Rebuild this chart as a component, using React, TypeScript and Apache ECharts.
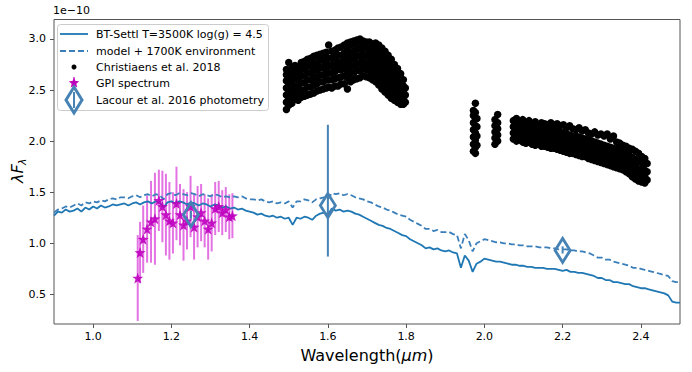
import React, { useEffect, useRef } from "react";
import * as echarts from "echarts";

// ---------- DATA ----------
// model spectrum wavelength grid (micron), 0.90 .. 2.50 step 0.01
const modelWl: number[] = Array.from({ length: 161 }, (_, i) => +(0.9 + i * 0.01).toFixed(2));
// BT-Settl T=3500K log(g)=4.5  (units of 1e-10)
const settlFlux = [
  1.27, 1.31, 1.30, 1.33, 1.31, 1.32, 1.34, 1.31, 1.35, 1.33,
  1.36, 1.34, 1.37, 1.35, 1.36, 1.38, 1.37, 1.38, 1.39, 1.37,
  1.39, 1.40, 1.38, 1.40, 1.41, 1.39, 1.41, 1.40, 1.35, 1.40,
  1.41, 1.39, 1.41, 1.40, 1.38, 1.40, 1.39, 1.37, 1.39, 1.38,
  1.36, 1.38, 1.37, 1.35, 1.36, 1.34, 1.35, 1.33, 1.34, 1.32,
  1.31, 1.30, 1.28, 1.29, 1.27, 1.26, 1.27, 1.25, 1.26, 1.24,
  1.25, 1.18, 1.25, 1.24, 1.26, 1.25, 1.23, 1.27, 1.29, 1.30,
  1.28, 1.34, 1.32, 1.33, 1.31, 1.32, 1.31, 1.29, 1.28, 1.26,
  1.24, 1.22, 1.20, 1.18, 1.17, 1.15, 1.14, 1.12, 1.10, 1.08,
  1.07, 1.04, 1.02, 1.00, 0.98, 0.95, 0.96, 0.94, 0.95, 0.93,
  0.92, 0.93, 0.91, 0.90, 0.76, 0.88, 0.83, 0.72, 0.80, 0.82,
  0.85, 0.84, 0.83, 0.82, 0.82, 0.81, 0.80, 0.79, 0.79, 0.78,
  0.78, 0.77, 0.77, 0.76, 0.76, 0.76, 0.75, 0.75, 0.75, 0.74,
  0.73, 0.74, 0.72, 0.72, 0.71, 0.71, 0.70, 0.69, 0.68, 0.66,
  0.66, 0.64, 0.64, 0.62, 0.62, 0.61, 0.60, 0.60, 0.58, 0.57,
  0.56, 0.56, 0.55, 0.54, 0.53, 0.52, 0.51, 0.49, 0.43, 0.42,
  0.42,
];
// model + 1700K environment
const envFlux = [
  1.30, 1.33, 1.34, 1.36, 1.35, 1.37, 1.39, 1.37, 1.40, 1.39,
  1.41, 1.40, 1.42, 1.41, 1.43, 1.44, 1.43, 1.45, 1.45, 1.44,
  1.46, 1.47, 1.45, 1.47, 1.48, 1.46, 1.48, 1.47, 1.43, 1.48,
  1.49, 1.47, 1.49, 1.48, 1.47, 1.49, 1.48, 1.46, 1.48, 1.47,
  1.46, 1.48, 1.47, 1.45, 1.46, 1.45, 1.46, 1.45, 1.46, 1.44,
  1.43, 1.43, 1.42, 1.43, 1.41, 1.40, 1.41, 1.39, 1.40, 1.39,
  1.41, 1.35, 1.41, 1.41, 1.43, 1.42, 1.40, 1.43, 1.44, 1.45,
  1.43, 1.49, 1.48, 1.49, 1.47, 1.48, 1.47, 1.45, 1.44, 1.43,
  1.41, 1.40, 1.38, 1.36, 1.35, 1.33, 1.32, 1.30, 1.28, 1.27,
  1.26, 1.23, 1.21, 1.19, 1.17, 1.14, 1.14, 1.12, 1.13, 1.11,
  1.11, 1.11, 1.09, 1.08, 0.95, 1.09, 1.03, 0.92, 1.00, 1.02,
  1.04, 1.03, 1.02, 1.01, 1.01, 1.00, 1.00, 0.99, 0.99, 0.98,
  0.98, 0.97, 0.97, 0.97, 0.96, 0.96, 0.96, 0.95, 0.95, 0.94,
  0.94, 0.94, 0.93, 0.93, 0.92, 0.92, 0.91, 0.90, 0.88, 0.86,
  0.86, 0.84, 0.84, 0.82, 0.81, 0.80, 0.79, 0.78, 0.76, 0.76,
  0.75, 0.74, 0.73, 0.72, 0.71, 0.70, 0.69, 0.68, 0.63, 0.62,
  0.62,
];

// Christiaens et al. 2018: each row = [wavelength, flux, flux, ...]
const christiaensH: number[][] = [
  [1.494, 2.31, 2.38, 2.45, 2.52, 2.59, 2.65, 2.70],
  [1.500, 2.35, 2.42, 2.49, 2.56, 2.63, 2.69, 2.77],
  [1.508, 2.37, 2.44, 2.51, 2.58, 2.65, 2.72],
  [1.516, 2.41, 2.47, 2.54, 2.61, 2.68, 2.74],
  [1.524, 2.40, 2.46, 2.53, 2.60, 2.67, 2.73],
  [1.532, 2.43, 2.50, 2.57, 2.64, 2.70, 2.77],
  [1.540, 2.44, 2.50, 2.57, 2.64, 2.71, 2.78],
  [1.548, 2.45, 2.53, 2.60, 2.67, 2.74, 2.80],
  [1.556, 2.46, 2.53, 2.60, 2.67, 2.74, 2.81],
  [1.564, 2.47, 2.55, 2.62, 2.69, 2.76, 2.83],
  [1.572, 2.49, 2.56, 2.63, 2.70, 2.77, 2.84],
  [1.580, 2.50, 2.58, 2.65, 2.72, 2.79, 2.85],
  [1.588, 2.51, 2.58, 2.65, 2.72, 2.79, 2.86],
  [1.596, 2.52, 2.60, 2.67, 2.74, 2.81, 2.87],
  [1.602, 2.53, 2.60, 2.67, 2.74, 2.81, 2.94],
  [1.610, 2.52, 2.60, 2.67, 2.74, 2.81, 2.88],
  [1.618, 2.54, 2.61, 2.68, 2.75, 2.82, 2.89],
  [1.626, 2.54, 2.62, 2.70, 2.77, 2.84, 2.91],
  [1.634, 2.56, 2.63, 2.70, 2.77, 2.84, 2.92],
  [1.642, 2.56, 2.64, 2.72, 2.79, 2.86, 2.94],
  [1.650, 2.51, 2.62, 2.69, 2.76, 2.83, 2.90, 2.96],
  [1.658, 2.58, 2.66, 2.73, 2.80, 2.87, 2.94, 2.97],
  [1.666, 2.60, 2.67, 2.74, 2.81, 2.88, 2.95, 2.98],
  [1.674, 2.61, 2.69, 2.76, 2.83, 2.90, 2.97, 2.99],
  [1.682, 2.62, 2.69, 2.76, 2.83, 2.90, 2.96, 3.00],
  [1.690, 2.64, 2.71, 2.78, 2.85, 2.92, 2.98],
  [1.698, 2.63, 2.70, 2.77, 2.84, 2.91, 2.97],
  [1.706, 2.62, 2.69, 2.76, 2.83, 2.90, 2.97],
  [1.714, 2.60, 2.67, 2.74, 2.81, 2.88, 2.95],
  [1.722, 2.58, 2.65, 2.72, 2.79, 2.86, 2.93, 2.96],
  [1.730, 2.55, 2.62, 2.69, 2.76, 2.83, 2.90, 2.94],
  [1.738, 2.51, 2.58, 2.65, 2.72, 2.79, 2.86, 2.91],
  [1.746, 2.48, 2.55, 2.62, 2.69, 2.76, 2.83, 2.88],
  [1.754, 2.45, 2.52, 2.59, 2.66, 2.73, 2.80, 2.84],
  [1.762, 2.42, 2.49, 2.56, 2.63, 2.70, 2.77, 2.80],
  [1.770, 2.40, 2.47, 2.54, 2.61, 2.68, 2.75],
  [1.778, 2.38, 2.44, 2.51, 2.58, 2.65, 2.71],
  [1.786, 2.36, 2.43, 2.49, 2.56, 2.62, 2.66],
  [1.793, 2.36, 2.42, 2.48, 2.54, 2.60],
  [1.798, 2.38, 2.45, 2.52],
];
const christiaensK: number[][] = [
  [1.972, 1.90, 1.97, 2.04, 2.11, 2.18, 2.25, 2.30],
  [1.977, 1.88, 1.94, 2.01, 2.08, 2.15, 2.22, 2.28, 2.37],
  [1.981, 1.96, 2.05, 2.14, 2.22],
  [2.027, 1.97, 2.03, 2.09, 2.15, 2.21],
  [2.034, 2.00, 2.06, 2.12, 2.18, 2.26],
  [2.074, 2.02, 2.08, 2.14, 2.20],
  [2.082, 2.00, 2.06, 2.12, 2.18, 2.22],
  [2.090, 2.01, 2.07, 2.13, 2.19],
  [2.098, 1.99, 2.05, 2.11, 2.17, 2.21],
  [2.106, 1.98, 2.04, 2.10, 2.16],
  [2.114, 1.99, 2.05, 2.11, 2.17, 2.20],
  [2.122, 1.97, 2.03, 2.09, 2.15],
  [2.130, 1.96, 2.02, 2.08, 2.14, 2.19],
  [2.138, 1.97, 2.03, 2.09, 2.15],
  [2.146, 1.95, 2.01, 2.07, 2.13, 2.18],
  [2.154, 1.95, 2.00, 2.06, 2.12, 2.17],
  [2.162, 1.94, 2.00, 2.06, 2.12, 2.16],
  [2.170, 1.93, 1.99, 2.05, 2.11, 2.18],
  [2.178, 1.93, 1.98, 2.04, 2.10, 2.16],
  [2.186, 1.92, 1.98, 2.04, 2.10, 2.17],
  [2.194, 1.91, 1.97, 2.03, 2.09, 2.15],
  [2.202, 1.90, 1.96, 2.02, 2.08, 2.16],
  [2.210, 1.89, 1.95, 2.01, 2.07, 2.13],
  [2.218, 1.88, 1.94, 2.00, 2.06, 2.15],
  [2.226, 1.88, 1.93, 1.99, 2.05, 2.12],
  [2.234, 1.87, 1.93, 1.99, 2.05, 2.11],
  [2.242, 1.86, 1.92, 1.98, 2.04, 2.13],
  [2.250, 1.85, 1.91, 1.97, 2.03, 2.10],
  [2.258, 1.85, 1.90, 1.96, 2.02, 2.11],
  [2.266, 1.83, 1.89, 1.95, 2.01, 2.08],
  [2.274, 1.82, 1.88, 1.94, 2.00, 2.07],
  [2.282, 1.81, 1.87, 1.93, 1.99, 2.09],
  [2.290, 1.80, 1.86, 1.92, 1.98, 2.06],
  [2.298, 1.79, 1.85, 1.91, 1.97, 2.07],
  [2.306, 1.78, 1.84, 1.90, 1.96, 2.05],
  [2.314, 1.77, 1.83, 1.89, 1.95, 2.07],
  [2.322, 1.76, 1.82, 1.88, 1.94, 2.02],
  [2.330, 1.75, 1.81, 1.87, 1.93, 2.05],
  [2.338, 1.74, 1.80, 1.86, 1.92, 1.99],
  [2.346, 1.73, 1.79, 1.85, 1.91, 1.98],
  [2.354, 1.72, 1.78, 1.84, 1.90, 1.96],
  [2.362, 1.70, 1.76, 1.82, 1.88, 1.95],
  [2.370, 1.68, 1.74, 1.80, 1.86, 1.93],
  [2.378, 1.65, 1.71, 1.77, 1.84, 1.92],
  [2.386, 1.63, 1.69, 1.75, 1.82, 1.90],
  [2.394, 1.61, 1.67, 1.73, 1.80, 1.88],
  [2.402, 1.60, 1.66, 1.72, 1.79, 1.85],
  [2.410, 1.59, 1.65, 1.71, 1.77, 1.83],
  [2.416, 1.62, 1.70, 1.78],
];

// GPI spectrum
const gpiWl = [1.114, 1.120, 1.128, 1.138, 1.148, 1.158, 1.168, 1.177, 1.186, 1.195, 1.204, 1.213, 1.222, 1.231, 1.240, 1.249, 1.258, 1.267, 1.276, 1.285, 1.294, 1.303, 1.312, 1.321, 1.330, 1.339, 1.348, 1.356];
const gpiFlux = [0.66, 0.91, 1.04, 1.14, 1.21, 1.24, 1.42, 1.36, 1.28, 1.22, 1.20, 1.39, 1.28, 1.18, 1.22, 1.36, 1.16, 1.26, 1.30, 1.22, 1.14, 1.20, 1.34, 1.36, 1.30, 1.33, 1.26, 1.27];
const gpiErr = [0.42, 0.30, 0.33, 0.33, 0.40, 0.45, 0.30, 0.35, 0.40, 0.38, 0.30, 0.36, 0.30, 0.35, 0.28, 0.30, 0.32, 0.30, 0.28, 0.26, 0.30, 0.28, 0.26, 0.25, 0.22, 0.22, 0.22, 0.22];

// Lacour et al. 2016 photometry
const lacourWl = [1.25, 1.6, 2.2];
const lacourFlux = [1.28, 1.37, 0.93];
const lacourLo = [1.24, 0.87, 0.90];
const lacourHi = [1.32, 2.16, 0.97];

const xTicks = [1.0, 1.2, 1.4, 1.6, 1.8, 2.0, 2.2, 2.4];
const yTicks = [0.5, 1.0, 1.5, 2.0, 2.5, 3.0];

const legendNames = [
  "BT-Settl T=3500K log(g) = 4.5",
  "model + 1700K environment",
  "Christiaens et al. 2018",
  "GPI spectrum",
  "Lacour et al. 2016 photometry",
];

const FONT = "DejaVu Sans";
const C_MODEL = "#1f77b4";
const C_ENV = "#3a7fba";
const C_LAC = "#4682b4";
const C_GPI = "#bf00bf";
const C_GPI_BAR = "rgba(204,0,204,0.55)";

function starPoints(cx: number, cy: number, r: number): number[][] {
  const pts: number[][] = [];
  for (let k = 0; k < 10; k++) {
    const a = -Math.PI / 2 + (k * Math.PI) / 5;
    const rr = k % 2 === 0 ? r : r * 0.45;
    pts.push([cx + rr * Math.cos(a), cy + rr * Math.sin(a)]);
  }
  return pts;
}

const STAR_PATH =
  "path://M0,-10L2.35,-3.24L9.51,-3.09L3.8,1.24L5.88,8.09L0,4.5L-5.88,8.09L-3.8,1.24L-9.51,-3.09L-2.35,-3.24Z";

export default function App() {
  const ref = useRef<HTMLDivElement>(null);
  useEffect(() => {
    if (!ref.current) return;
    const chart = echarts.init(ref.current, null, { renderer: "svg" });

    const settlData = modelWl.map((w, i) => [w, settlFlux[i]]);
    const envData = modelWl.map((w, i) => [w, envFlux[i]]);
    const chrData: number[][] = [];
    [...christiaensH, ...christiaensK].forEach((row) => {
      for (let j = 1; j < row.length; j++) chrData.push([row[0], row[j]]);
    });
    const gpiData = gpiWl.map((w, i) => [w, gpiFlux[i]]);
    const gpiBars = gpiWl.map((w, i) => [w, gpiFlux[i] - gpiErr[i], gpiFlux[i] + gpiErr[i]]);
    const lacData = lacourWl.map((w, i) => [w, lacourFlux[i]]);
    const lacBars = lacourWl.map((w, i) => [w, lacourLo[i], lacourHi[i]]);

    const errRender = (color: string, width: number) => (params: any, api: any) => {
      const lo = api.coord([api.value(0), api.value(1)]);
      const hi = api.coord([api.value(0), api.value(2)]);
      return {
        type: "line",
        shape: { x1: lo[0], y1: lo[1], x2: hi[0], y2: hi[1] },
        style: { stroke: color, lineWidth: width },
      };
    };

    // legend graphics
    const lx = 60, tx = 96;
    const rows = [34, 51, 67, 83, 100];
    const legendGraphics: any[] = [
      {
        type: "rect",
        shape: { x: 57.5, y: 24.5, width: 211, height: 86, r: 3 },
        style: { fill: "rgba(255,255,255,0.8)", stroke: "#cccccc", lineWidth: 1 },
        z: 100,
      },
      { type: "line", shape: { x1: lx, y1: rows[0], x2: lx + 28, y2: rows[0] }, style: { stroke: C_MODEL, lineWidth: 1.8 }, z: 101 },
      { type: "line", shape: { x1: lx, y1: rows[1], x2: lx + 28, y2: rows[1] }, style: { stroke: C_ENV, lineWidth: 1.8, lineDash: [6, 3] }, z: 101 },
      { type: "circle", shape: { cx: lx + 14, cy: rows[2], r: 2.5 }, style: { fill: "#000" }, z: 101 },
      { type: "line", shape: { x1: lx + 14, y1: rows[3] - 6, x2: lx + 14, y2: rows[3] + 6 }, style: { stroke: C_GPI_BAR, lineWidth: 2 }, z: 101 },
      { type: "polygon", shape: { points: starPoints(lx + 14, rows[3], 5.5) }, style: { fill: C_GPI }, z: 102 },
      { type: "line", shape: { x1: lx + 14, y1: rows[4] - 8, x2: lx + 14, y2: rows[4] + 8 }, style: { stroke: C_LAC, lineWidth: 2 }, z: 101 },
      {
        type: "polygon",
        shape: { points: [[lx + 14, rows[4] - 13], [lx + 22, rows[4]], [lx + 14, rows[4] + 13], [lx + 6, rows[4]]] },
        style: { fill: "none", stroke: C_LAC, lineWidth: 3 },
        z: 102,
      },
      ...legendNames.map((n, i) => ({
        type: "text",
        x: tx,
        y: rows[i],
        style: { text: n, font: `11px '${FONT}'`, fill: "#000", textVerticalAlign: "middle" },
        z: 103,
      })),
    ];

    chart.setOption({
      animation: false,
      grid: {
        left: 54,
        right: 12,
        top: 19.5,
        bottom: 48,
        show: true,
        borderColor: "#555",
        borderWidth: 1,
        backgroundColor: "transparent",
      },
      xAxis: {
        type: "value",
        min: 0.9,
        max: 2.5,
        axisLine: { show: false },
        splitLine: { show: false },
        axisTick: { show: true, inside: false, length: 4, customValues: xTicks, lineStyle: { color: "#555" } },
        axisLabel: {
          customValues: xTicks,
          formatter: (v: number) => v.toFixed(1),
          fontFamily: FONT,
          fontSize: 11,
          color: "#000",
          margin: 7,
        },
      },
      yAxis: {
        type: "value",
        min: 0.21,
        max: 3.19,
        axisLine: { show: false },
        splitLine: { show: false },
        axisTick: { show: true, inside: false, length: 4, customValues: yTicks, lineStyle: { color: "#555" } },
        axisLabel: {
          customValues: yTicks,
          formatter: (v: number) => v.toFixed(1),
          fontFamily: FONT,
          fontSize: 11,
          color: "#000",
          margin: 8,
        },
      },
      graphic: [
        {
          type: "text",
          left: 53,
          top: 5,
          style: { text: "1e\u221210", font: `11px '${FONT}'`, fill: "#000" },
        },
        {
          type: "text",
          x: 367,
          y: 355,
          style: {
            text: "Wavelength({i|\u03bcm})",
            font: `16px '${FONT}'`,
            fill: "#000",
            align: "center",
            verticalAlign: "middle",
            rich: { i: { fontFamily: FONT, fontSize: 16, fontStyle: "italic" } },
          },
        },
        {
          type: "group",
          x: 17,
          y: 170,
          rotation: Math.PI / 2,
          children: [
            {
              type: "text",
              x: -13,
              y: 0,
              style: { text: "\u03bbF", font: `italic 16px '${FONT}'`, fill: "#000", align: "left", verticalAlign: "middle" },
            },
            {
              type: "text",
              x: 5,
              y: 5,
              style: { text: "\u03bb", font: `italic 11px '${FONT}'`, fill: "#000", align: "left", verticalAlign: "middle" },
            },
          ],
        },
        ...legendGraphics,
      ],
      series: [
        {
          name: legendNames[3] + " err",
          type: "custom",
          data: gpiBars,
          encode: { x: 0, y: [1, 2] },
          renderItem: errRender(C_GPI_BAR, 2),
          z: 2,
          silent: true,
        },
        {
          name: legendNames[0],
          type: "line",
          data: settlData,
          showSymbol: false,
          symbol: "none",
          lineStyle: { color: C_MODEL, width: 1.8 },
          z: 3,
        },
        {
          name: legendNames[1],
          type: "line",
          data: envData,
          showSymbol: false,
          symbol: "none",
          lineStyle: { color: C_ENV, width: 1.8, type: [6, 3] },
          z: 3,
        },
        {
          name: legendNames[2],
          type: "scatter",
          data: chrData,
          symbol: "circle",
          symbolSize: 7.5,
          itemStyle: { color: "#000", borderWidth: 0, opacity: 1 },
          z: 4,
        },
        {
          name: legendNames[3],
          type: "scatter",
          data: gpiData,
          symbol: STAR_PATH,
          symbolSize: 11,
          itemStyle: { color: C_GPI, opacity: 0.9 },
          z: 5,
        },
        {
          name: legendNames[4] + " err",
          type: "custom",
          data: lacBars,
          encode: { x: 0, y: [1, 2] },
          renderItem: errRender(C_LAC, 2),
          z: 6,
          silent: true,
        },
        {
          name: legendNames[4],
          type: "scatter",
          data: lacData,
          symbol: "diamond",
          symbolSize: [15, 24],
          itemStyle: { color: "rgba(0,0,0,0)", borderColor: C_LAC, borderWidth: 3, opacity: 1 },
          z: 7,
        },
      ],
    });
    return () => chart.dispose();
  }, []);
  return <div ref={ref} style={{ width: 692, height: 372, position: "absolute", left: 0, top: 0 }} />;
}
